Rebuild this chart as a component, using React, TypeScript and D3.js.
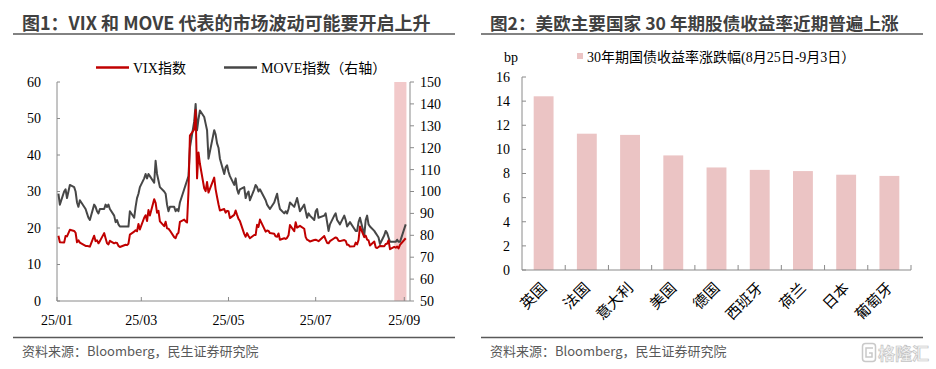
import React, { useEffect, useRef } from 'react';
import * as d3 from 'd3';

// market holidays (US) that are skipped in the daily series
const holidays = ['2025-01-09', '2025-01-20', '2025-02-17', '2025-04-18', '2025-05-26', '2025-06-19', '2025-07-04', '2025-09-01'];

// VIX index, trading days 2025-01-02 .. 2025-09-02
const vixValues = [
  // Jan
  17.9, 16.1, 16.0, 17.8, 17.7, 19.5, 19.2, 18.7, 16.1, 16.6, 16.0, 15.1, 15.1, 15.0, 14.9, 17.9, 16.4, 16.6, 15.8, 16.4,
  // Feb
  18.6, 17.2, 15.8, 15.5, 16.5, 15.8, 16.0, 15.9, 15.1, 14.8, 15.4, 15.3, 15.7, 18.2, 19.0, 19.4, 19.1, 21.1, 19.6,
  // Mar
  22.8, 23.5, 21.9, 24.9, 23.4, 27.9, 26.9, 24.2, 24.7, 21.8, 20.5, 21.7, 19.9, 19.8, 19.3, 17.5, 17.2, 18.3, 18.7, 21.7, 22.3,
  // Apr
  21.8, 21.5, 30.0, 45.3, 47.0, 52.3, 33.6, 40.7, 37.6, 30.9, 30.1, 32.6, 29.7, 33.8, 30.6, 28.5, 26.5, 24.8, 25.2, 24.2, 24.7,
  // May
  24.6, 22.7, 23.6, 24.8, 23.6, 22.5, 21.9, 18.4, 17.6, 18.6, 17.8, 17.2, 18.1, 18.1, 20.9, 20.3, 22.3, 19.0, 19.3, 19.2, 18.6,
  // Jun
  18.4, 17.7, 17.6, 18.5, 16.8, 17.2, 17.0, 17.3, 18.0, 20.8, 19.1, 21.6, 20.1, 20.6, 19.8, 17.5, 16.8, 16.6, 16.3, 16.7,
  // Jul
  16.8, 16.6, 16.4, 17.8, 16.8, 15.9, 15.8, 16.4, 17.2, 17.4, 17.2, 16.5, 16.4, 16.7, 16.5, 15.4, 15.4, 14.9, 15.0, 16.0, 15.5, 16.7,
  // Aug
  20.4, 17.5, 17.9, 16.8, 16.6, 15.2, 16.3, 14.7, 14.5, 14.8, 15.1, 15.0, 15.6, 15.7, 16.6, 14.2, 14.8, 14.6, 14.9, 14.4, 15.4,
  // Sep
  17.2,
];

// MOVE index (right axis), same days
const moveValues = [
  // Jan
  99, 94, 100, 101, 97, 103, 102, 100, 95, 93, 96, 92, 90, 88, 87, 94, 93, 91, 90, 92,
  // Feb
  92, 94, 93, 94, 92, 89, 86, 87, 85, 84, 84, 84, 84, 91, 88, 93, 97, 99, 102,
  // Mar
  106, 108, 106, 108, 107, 104, 114, 108, 105, 102, 100, 99, 94, 91, 93, 93, 91, 92, 91, 95, 101,
  // Apr
  103, 105, 107, 120, 132, 140, 128, 133, 137, 134, 131, 128, 115, 128, 126, 122, 120, 115, 108, 111, 112,
  // May
  109, 107, 103, 106, 101, 99, 101, 102, 97, 99, 100, 96, 101, 103, 102, 100, 101, 96, 94, 93, 92,
  // Jun
  95, 97, 99, 95, 92, 90, 91, 90, 92, 95, 93, 95, 97, 91, 94, 91, 88, 90, 89, 87,
  // Jul
  91, 92, 88, 89, 90, 86, 82, 85, 89, 90, 87, 86, 85, 89, 87, 84, 85, 86, 83, 82, 82, 86,
  // Aug
  88, 80, 87, 89, 85, 84, 82, 81, 80, 79, 76, 80, 82, 81, 79, 77, 77, 77, 78, 77, 77,
  // Sep
  85,
];

const monthTicks = ['25/01', '25/03', '25/05', '25/07', '25/09'];
const leftTicks = [0, 10, 20, 30, 40, 50, 60];
const rightTicks = [50, 60, 70, 80, 90, 100, 110, 120, 130, 140, 150];

const countries = ['英国', '法国', '意大利', '美国', '德国', '西班牙', '荷兰', '日本', '葡萄牙'];
const yieldChanges = [14.4, 11.3, 11.2, 9.5, 8.5, 8.3, 8.2, 7.9, 7.8];
const barTicks = [0, 2, 4, 6, 8, 10, 12, 14, 16];

const serif = "'Liberation Serif', 'Times New Roman', 'Noto Sans CJK SC', serif";
const sans = "'Noto Sans CJK SC', 'Microsoft YaHei', sans-serif";
const axisColor = '#8a8a8a';
const textColor = '#404040';

const App: React.FC = () => {
  const ref = useRef<SVGSVGElement>(null);

  useEffect(() => {
    if (!ref.current) return;
    const svg = d3.select(ref.current);
    svg.selectAll('*').remove();

    svg.append('rect').attr('width', 936).attr('height', 369).attr('fill', '#fff');

    // ---------- headers / footers ----------
    const panels = [
      { x0: 13, x1: 455, size: 18, title: '图1：VIX 和 MOVE 代表的市场波动可能要开启上升' },
      { x0: 481, x1: 923, size: 17.6, title: '图2：美欧主要国家 30 年期股债收益率近期普遍上涨' },
    ];
    panels.forEach(p => {
      svg.append('text')
        .attr('x', p.x0 + 9).attr('y', 30)
        .style('font-family', sans).style('font-size', `${p.size}px`).style('font-weight', 'bold')
        .attr('fill', textColor)
        .text(p.title);
      svg.append('line').attr('x1', p.x0).attr('x2', p.x1).attr('y1', 34).attr('y2', 34)
        .attr('stroke', '#595959').attr('stroke-width', 1.6);
      svg.append('line').attr('x1', p.x0).attr('x2', p.x1).attr('y1', 337.5).attr('y2', 337.5)
        .attr('stroke', '#595959').attr('stroke-width', 1.4);
      svg.append('text')
        .attr('x', p.x0 + 9).attr('y', 356)
        .style('font-family', sans).style('font-size', '13px')
        .attr('fill', '#595959')
        .text('资料来源：Bloomberg，民生证券研究院');
    });

    // ---------- left chart: VIX & MOVE ----------
    const fmt = d3.timeFormat('%Y-%m-%d');
    const days = d3.timeDay.range(new Date(2025, 0, 2), new Date(2025, 8, 3))
      .filter(d => d.getDay() !== 0 && d.getDay() !== 6 && !holidays.includes(fmt(d)));

    const x = d3.scaleTime().domain([new Date(2025, 0, 1), new Date(2025, 8, 5)]).range([57, 410]);
    const yL = d3.scaleLinear().domain([0, 60]).range([301, 82]);
    const yR = d3.scaleLinear().domain([50, 150]).range([301, 82]);

    // highlight band (8/25 - 9/3)
    svg.append('rect')
      .attr('x', x(new Date(2025, 7, 25)))
      .attr('y', yR(150))
      .attr('width', x(new Date(2025, 8, 2, 12)) - x(new Date(2025, 7, 25)))
      .attr('height', yR(50) - yR(150))
      .attr('fill', '#f2c9ca');

    const g = svg.append('g');

    // left axis
    g.append('line').attr('x1', 57).attr('x2', 57).attr('y1', yL(60)).attr('y2', yL(0)).attr('stroke', axisColor);
    leftTicks.forEach(t => {
      g.append('line').attr('x1', 57).attr('x2', 60).attr('y1', yL(t)).attr('y2', yL(t)).attr('stroke', axisColor);
      g.append('text').attr('x', 41).attr('y', yL(t)).attr('dy', '0.35em').attr('text-anchor', 'end')
        .style('font-family', serif).style('font-size', '14px').attr('fill', '#000').text(t);
    });

    // right axis
    g.append('line').attr('x1', 410).attr('x2', 410).attr('y1', yR(150)).attr('y2', yR(50)).attr('stroke', axisColor);
    rightTicks.forEach(t => {
      g.append('line').attr('x1', 410).attr('x2', 414).attr('y1', yR(t)).attr('y2', yR(t)).attr('stroke', axisColor);
      g.append('text').attr('x', 420).attr('y', yR(t)).attr('dy', '0.35em')
        .style('font-family', serif).style('font-size', '14px').attr('fill', '#000').text(t);
    });

    // bottom axis
    g.append('line').attr('x1', 57).attr('x2', 410).attr('y1', 301).attr('y2', 301).attr('stroke', axisColor);
    monthTicks.forEach((lbl, i) => {
      const xp = x(new Date(2025, i * 2, 1));
      g.append('line').attr('x1', xp).attr('x2', xp).attr('y1', 301).attr('y2', 297).attr('stroke', axisColor);
      g.append('text').attr('x', xp).attr('y', 325).attr('text-anchor', 'middle')
        .style('font-family', serif).style('font-size', '14px').attr('fill', '#000').text(lbl);
    });

    const lineVix = d3.line<Date>().x(d => x(d)).y((_, i) => yL(vixValues[i]));
    const lineMove = d3.line<Date>().x(d => x(d)).y((_, i) => yR(moveValues[i]));

    g.append('path').attr('d', lineMove(days)!).attr('fill', 'none')
      .attr('stroke', '#474747').attr('stroke-width', 2).attr('stroke-linejoin', 'round');
    g.append('path').attr('d', lineVix(days)!).attr('fill', 'none')
      .attr('stroke', '#c00000').attr('stroke-width', 2).attr('stroke-linejoin', 'round');

    // legend
    const legend = [
      { x: 96, color: '#c00000', label: 'VIX指数' },
      { x: 224, color: '#474747', label: 'MOVE指数（右轴）' },
    ];
    legend.forEach(l => {
      g.append('line').attr('x1', l.x).attr('x2', l.x + 33).attr('y1', 67.5).attr('y2', 67.5)
        .attr('stroke', l.color).attr('stroke-width', 2.5);
      g.append('text').attr('x', l.x + 37).attr('y', 72.5)
        .style('font-family', serif).style('font-size', '14px').attr('fill', '#000').text(l.label);
    });

    // ---------- right chart: bars ----------
    const xb = d3.scaleBand<string>().domain(countries).range([522, 911]).padding(0);
    const yb = d3.scaleLinear().domain([0, 16]).range([270, 77]);
    const barW = xb.bandwidth() * 0.46;

    const b = svg.append('g');
    b.selectAll('rect.bar').data(countries).enter().append('rect')
      .attr('class', 'bar')
      .attr('x', c => xb(c)! + xb.bandwidth() / 2 - barW / 2)
      .attr('y', (_, i) => yb(yieldChanges[i]))
      .attr('width', barW)
      .attr('height', (_, i) => yb(0) - yb(yieldChanges[i]))
      .attr('fill', '#ebc4c4');

    b.append('line').attr('x1', 522).attr('x2', 522).attr('y1', yb(16)).attr('y2', yb(0)).attr('stroke', axisColor);
    barTicks.forEach(t => {
      b.append('line').attr('x1', 522).attr('x2', 526).attr('y1', yb(t)).attr('y2', yb(t)).attr('stroke', axisColor);
      b.append('text').attr('x', 510).attr('y', yb(t)).attr('dy', '0.35em').attr('text-anchor', 'end')
        .style('font-family', serif).style('font-size', '14px').attr('fill', '#000').text(t);
    });
    b.append('line').attr('x1', 522).attr('x2', 911).attr('y1', yb(0)).attr('y2', yb(0)).attr('stroke', axisColor);
    countries.forEach((c, i) => {
      const xe = xb(c)! + xb.bandwidth();
      b.append('line').attr('x1', xe).attr('x2', xe).attr('y1', yb(0)).attr('y2', yb(0) - 5).attr('stroke', axisColor);
      const cx = xb(c)! + xb.bandwidth() / 2 + 4;
      b.append('text')
        .attr('transform', `translate(${cx},289) rotate(-45)`)
        .attr('text-anchor', 'end')
        .style('font-family', serif).style('font-size', '15px').attr('fill', '#000')
        .text(countries[i]);
    });

    b.append('text').attr('x', 511).attr('y', 62).attr('text-anchor', 'middle')
      .style('font-family', serif).style('font-size', '14px').attr('fill', '#000').text('bp');
    b.append('rect').attr('x', 577).attr('y', 53).attr('width', 6).attr('height', 6).attr('fill', '#ebc4c4');
    b.append('text').attr('x', 587).attr('y', 62)
      .style('font-family', serif).style('font-size', '14px').attr('fill', '#000')
      .text('30年期国债收益率涨跌幅(8月25日-9月3日）');

    // watermark
    const wm = svg.append('g').attr('opacity', 0.9);
    wm.append('rect').attr('x', 862.5).attr('y', 343.5).attr('width', 13).attr('height', 18).attr('rx', 3)
      .attr('fill', 'none').attr('stroke', '#c4c4c4').attr('stroke-width', 1.5);
    wm.append('path').attr('d', 'M873 348 H866 V357 H872 V353 H869')
      .attr('fill', 'none').attr('stroke', '#c4c4c4').attr('stroke-width', 1.5);
    wm.append('text').attr('x', 878).attr('y', 360)
      .style('font-family', sans).style('font-size', '17px').style('font-weight', 'bold')
      .attr('fill', '#f2f2f2').attr('stroke', '#bdbdbd').attr('stroke-width', 0.7)
      .text('格隆汇');
  }, []);

  return (
    <svg ref={ref} width={936} height={369} style={{ position: 'absolute', left: 0, top: 0 }} />
  );
};

export default App;
